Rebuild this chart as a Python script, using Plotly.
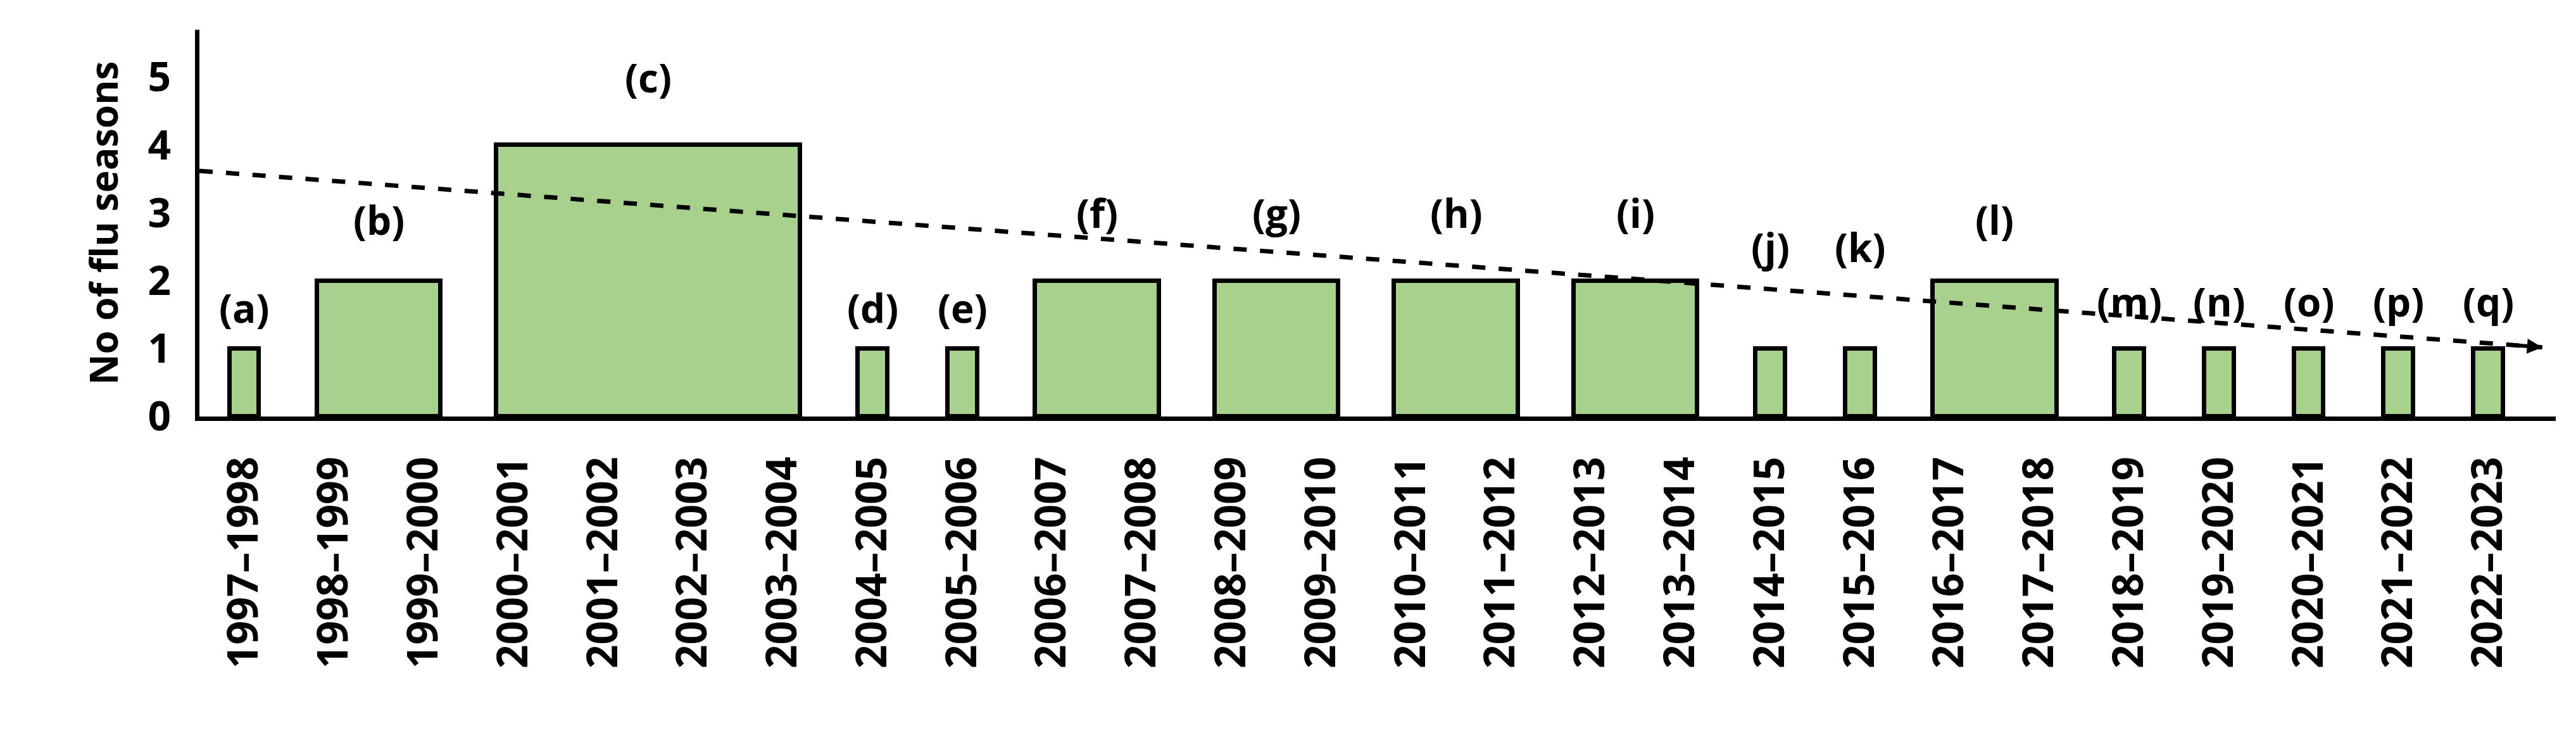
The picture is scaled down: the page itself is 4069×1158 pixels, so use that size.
import plotly.graph_objects as go

seasons = [f"{y}–{y + 1}" for y in range(1997, 2023)]

# each bar: first season index, number of seasons spanned, value, label
bar_start = [0, 1, 3, 7, 8, 9, 11, 13, 15, 17, 18, 19, 21, 22, 23, 24, 25]
bar_span = [1, 2, 4, 1, 1, 2, 2, 2, 2, 1, 1, 2, 1, 1, 1, 1, 1]
bar_value = [1, 2, 4, 1, 1, 2, 2, 2, 2, 1, 1, 2, 1, 1, 1, 1, 1]
bar_label = ["(a)", "(b)", "(c)", "(d)", "(e)", "(f)", "(g)", "(h)", "(i)",
             "(j)", "(k)", "(l)", "(m)", "(n)", "(o)", "(p)", "(q)"]
label_y = [1.6, 2.9, 5.0, 1.6, 1.6, 3.0, 3.0, 3.0, 3.0, 2.5, 2.5, 2.9,
           1.7, 1.7, 1.7, 1.7, 1.7]

trend_x = [-0.5, 25.6]
trend_y = [3.62, 1.02]

centers = [s + (n - 1) / 2 for s, n in zip(bar_start, bar_span)]
widths = [0.33 if n == 1 else n - 0.62 for n in bar_span]

fig = go.Figure()
fig.add_trace(go.Bar(
    x=centers, y=bar_value, width=widths,
    marker=dict(color="#a9d18e", line=dict(color="black", width=7)),
    showlegend=False,
))
fig.add_trace(go.Scatter(
    x=trend_x, y=trend_y, mode="lines",
    line=dict(color="black", width=7, dash="dash"), showlegend=False,
))
fig.add_annotation(x=trend_x[1], y=trend_y[1], ax=trend_x[1] - 0.3,
                   ay=trend_y[1] + 0.03, xref="x", yref="y", axref="x",
                   ayref="y", text="", showarrow=True, arrowhead=2,
                   arrowsize=0.8, arrowwidth=6, arrowcolor="black")
for c, ly, t in zip(centers, label_y, bar_label):
    fig.add_annotation(x=c, y=ly, text=t, showarrow=False,
                       font=dict(size=62, color="black", weight="bold"))

fig.update_layout(
    width=4069, height=1158,
    paper_bgcolor="white", plot_bgcolor="white",
    margin=dict(l=307, r=40, t=39, b=508),
    font=dict(family="Open Sans", color="black"),
    bargap=0,
)
fig.update_xaxes(
    range=[-0.5, 25.75], tickvals=list(range(len(seasons))), ticktext=seasons,
    tickangle=-90, tickfont=dict(size=66, weight="bold"),
    showline=True, linecolor="black", linewidth=7, showgrid=False,
    ticks="", ticklabelstandoff=30,
)
fig.update_yaxes(
    range=[0, 5.7], tickvals=[0, 1, 2, 3, 4, 5], showgrid=False,
    tickfont=dict(size=64, weight="bold"), zeroline=False,
    showline=True, linecolor="black", linewidth=7, ticks="",
    ticklabelstandoff=25,
    title=dict(text="No of flu seasons", font=dict(size=60, weight="bold"),
               standoff=30),
)

fig.write_html("out.html")
